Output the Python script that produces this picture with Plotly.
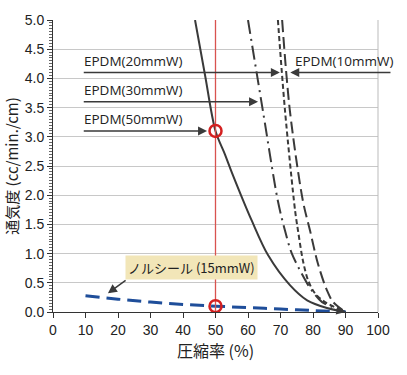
import plotly.graph_objects as go

# Data
x_50 = [43.7, 46.8, 50.0, 52.9, 55.1, 61.2, 66.2, 72.9, 78.2, 84.3, 90.0]
y_50 = [5.0, 4.05, 3.1, 2.7, 2.38, 1.56, 0.97, 0.46, 0.2, 0.068, 0.0]

x_30 = [60.0, 64.6, 69.2, 71.4, 73.5, 78.2, 80.0, 82.8, 90.0]
y_30 = [5.0, 3.44, 1.9, 1.39, 1.0, 0.49, 0.34, 0.17, 0.0]

x_20 = [69.2, 71.4, 74.5, 75.4, 76.9, 78.5, 80.6, 83.7, 90.0]
y_20 = [5.0, 3.44, 1.73, 1.39, 0.88, 0.54, 0.32, 0.17, 0.0]

x_10 = [70.5, 72.9, 76.9, 79.1, 81.5, 84.3, 86.2, 90.0]
y_10 = [5.0, 3.44, 1.9, 1.39, 0.83, 0.37, 0.17, 0.0]

x_nr = [10, 20, 30, 40, 50, 60, 70, 80, 90]
y_nr = [0.28, 0.22, 0.17, 0.13, 0.1, 0.075, 0.05, 0.025, 0.0]

x_ticks = list(range(0, 101, 10))
y_ticks = [i * 0.5 for i in range(11)]

dark = "#3a3a3a"
fig = go.Figure()

fig.add_trace(go.Scatter(x=x_50, y=y_50, mode="lines", line=dict(color=dark, width=2, shape="spline", smoothing=0.9)))
fig.add_trace(go.Scatter(x=x_30, y=y_30, mode="lines", line=dict(color=dark, width=2, dash="14px,5px,2px,5px", shape="spline", smoothing=0.9)))
fig.add_trace(go.Scatter(x=x_20, y=y_20, mode="lines", line=dict(color=dark, width=2, dash="5px,3px", shape="spline", smoothing=0.9)))
fig.add_trace(go.Scatter(x=x_10, y=y_10, mode="lines", line=dict(color=dark, width=2, dash="12px,5px", shape="spline", smoothing=0.9)))
fig.add_trace(go.Scatter(x=x_nr, y=y_nr, mode="lines", line=dict(color="#1f4e9a", width=3, dash="14px,7px", shape="spline")))

# red vertical line and circles
fig.add_trace(go.Scatter(x=[50, 50], y=[0, 5], mode="lines", line=dict(color="#d9534f", width=1.3)))
fig.add_trace(go.Scatter(x=[50, 50], y=[3.1, 0.1], mode="markers",
                         marker=dict(size=12, color="rgba(0,0,0,0)", line=dict(color="#d42020", width=2.5))))

afont = dict(family="Open Sans, Noto Sans", size=13.5, color="#222")
lab_x = 9.0
labels = [("EPDM(20mmW)", 4.1, 69.8), ("EPDM(30mmW)", 3.6, 63.1), ("EPDM(50mmW)", 3.1, 47.4)]
for txt, yv, xt in labels:
    fig.add_annotation(x=xt, y=yv, ax=lab_x, ay=yv, axref="x", ayref="y", xref="x", yref="y",
                       showarrow=True, arrowhead=2, arrowsize=1.2, arrowwidth=1.5, arrowcolor=dark, text="")
    fig.add_annotation(x=lab_x, y=yv, xref="x", yref="y", text=txt, showarrow=False,
                       xanchor="left", yanchor="bottom", yshift=1, font=afont)

fig.add_annotation(x=73.0, y=4.1, ax=104.3, ay=4.1, axref="x", ayref="y", xref="x", yref="y",
                   showarrow=True, arrowhead=2, arrowsize=1.2, arrowwidth=1.5, arrowcolor=dark, text="")
fig.add_annotation(x=73.8, y=4.1, xref="x", yref="y", text="EPDM(10mmW)", showarrow=False,
                   xanchor="left", yanchor="bottom", yshift=1, font=afont)

# arrowhead at convergence
fig.add_annotation(x=90, y=0.0, ax=86, ay=0.05, axref="x", ayref="y", xref="x", yref="y",
                   showarrow=True, arrowhead=2, arrowsize=1.2, arrowwidth=1.5, arrowcolor=dark, text="")

# ノルシール label
fig.add_annotation(x=16.9, y=0.32, ax=22.8, ay=0.56, axref="x", ayref="y", xref="x", yref="y",
                   showarrow=True, arrowhead=2, arrowsize=1.2, arrowwidth=1.5, arrowcolor=dark, text="")
fig.add_annotation(x=22.2, y=0.76, xref="x", yref="y", text="ノルシール (15mmW)", showarrow=False,
                   xanchor="left", yanchor="middle", bgcolor="#f2e6b8",
                   font=dict(family="Noto Sans CJK JP", size=13, color="#222"), borderpad=2)
fig.add_shape(type="line", x0=22.8, x1=60.2, y0=0.58, y1=0.58, xref="x", yref="y",
              line=dict(color=dark, width=1.5))

fig.update_layout(
    width=407, height=375, margin=dict(l=53, r=29, t=18, b=63),
    plot_bgcolor="white", paper_bgcolor="white", showlegend=False,
    font=dict(family="Liberation Sans, Arial", color="#222"),
    xaxis=dict(range=[0, 100], tickvals=x_ticks, ticks="outside", ticklen=5, tickcolor="#333",
               showline=True, linecolor="#333", mirror=False, showgrid=False, zeroline=False,
               tickfont=dict(size=14),
               title=dict(text="圧縮率 (%)", font=dict(family="Noto Sans CJK JP", size=16), standoff=8)),
    yaxis=dict(range=[0, 5.0], tickvals=y_ticks, tickformat=".1f", ticks="outside", ticklen=5, tickcolor="#333",
               showline=True, linecolor="#333", showgrid=True, gridcolor="#c8c8c8", gridwidth=1, zeroline=False,
               minor=dict(dtick=0.05, ticks="outside", ticklen=3, tickcolor="#666", showgrid=False),
               tickfont=dict(size=14),
               title=dict(text="通気度 (cc/min./cm)", font=dict(family="Noto Sans CJK JP", size=15), standoff=2)),
)
fig.add_shape(type="line", x0=1, x1=1, y0=0, y1=1, xref="paper", yref="paper", line=dict(color="#bbbbbb", width=1))

fig.write_html("out.html")
